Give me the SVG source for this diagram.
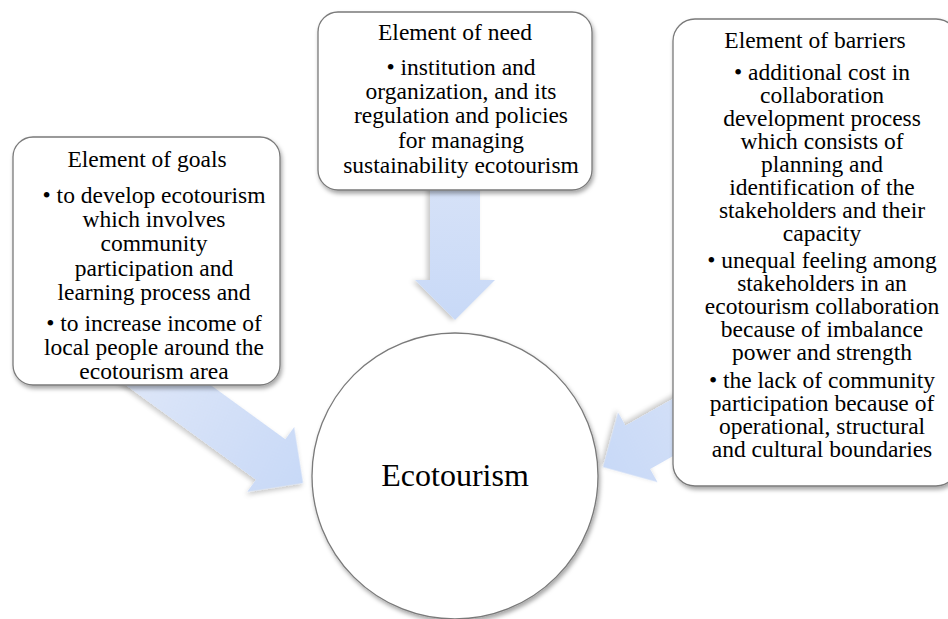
<svg xmlns="http://www.w3.org/2000/svg" width="948" height="619" viewBox="0 0 948 619">
<style>
  .box { fill: #ffffff; stroke: #7a7a7a; stroke-width: 1.3; filter: url(#shadow); }
  .t { font-family: 'Liberation Serif', 'Times New Roman', 'DejaVu Serif', serif; font-size: 23.5px; fill: #000; text-anchor: middle; }
  .big { font-family: 'Liberation Serif', 'Times New Roman', 'DejaVu Serif', serif; font-size: 32px; fill: #000; text-anchor: middle; }
  .arrow { filter: url(#ashadow); }
</style>
<defs>
  <filter id="shadow" x="-10%" y="-10%" width="125%" height="125%">
    <feDropShadow dx="1.5" dy="3" stdDeviation="2.2" flood-color="#000" flood-opacity="0.35"/>
  </filter>
  <filter id="ashadow" x="-20%" y="-20%" width="140%" height="140%">
    <feDropShadow dx="1" dy="3" stdDeviation="2.5" flood-color="#000" flood-opacity="0.22"/>
  </filter>
  <linearGradient id="ag" gradientUnits="userSpaceOnUse" x1="-200" y1="0" x2="0" y2="0">
    <stop offset="0" stop-color="#dde6f8"/>
    <stop offset="1" stop-color="#c8d9f7"/>
  </linearGradient>
  <polygon id="arrowShape" points="0,0 -40,-40 -40,-25 -230,-25 -230,25 -40,25 -40,40"/>
</defs>
<rect width="948" height="619" fill="#ffffff"/>

<g id="connectors">
  <g class="arrow" transform="translate(455,320) rotate(90)"><use href="#arrowShape" fill="url(#ag)"/></g>
  <g class="arrow" transform="translate(303,483) rotate(36)"><use href="#arrowShape" fill="url(#ag)"/></g>
  <g class="arrow" transform="translate(603,467) rotate(150.5)"><use href="#arrowShape" fill="url(#ag)"/></g>
</g>

<g id="goals">
  <rect class="box" x="13" y="137" width="267" height="248" rx="20"/>
  <text class="t" x="147" y="167">Element of goals</text>
  <text class="t" x="154" y="203">• to develop ecotourism</text>
  <text class="t" x="154" y="227">which involves</text>
  <text class="t" x="154" y="251">community</text>
  <text class="t" x="154" y="276">participation and</text>
  <text class="t" x="154" y="300">learning process and</text>
  <text class="t" x="154" y="331">• to increase income of</text>
  <text class="t" x="154" y="355">local people around the</text>
  <text class="t" x="154" y="379">ecotourism area</text>
</g>

<g id="need">
  <rect class="box" x="318" y="12" width="274" height="178" rx="20"/>
  <text class="t" x="455" y="40">Element of need</text>
  <text class="t" x="461" y="75">• institution and</text>
  <text class="t" x="461" y="99">organization, and its</text>
  <text class="t" x="461" y="123">regulation and policies</text>
  <text class="t" x="461" y="148">for managing</text>
  <text class="t" x="461" y="173">sustainability ecotourism</text>
</g>

<g id="barriers">
  <rect class="box" x="673" y="19" width="285" height="467" rx="22"/>
  <text class="t" x="815" y="48">Element of barriers</text>
  <text class="t" x="822" y="80">• additional cost in</text>
  <text class="t" x="822" y="103">collaboration</text>
  <text class="t" x="822" y="126">development process</text>
  <text class="t" x="822" y="149">which consists of</text>
  <text class="t" x="822" y="172">planning and</text>
  <text class="t" x="822" y="195">identification of the</text>
  <text class="t" x="822" y="218">stakeholders and their</text>
  <text class="t" x="822" y="241">capacity</text>
  <text class="t" x="822" y="268">• unequal feeling among</text>
  <text class="t" x="822" y="291">stakeholders in an</text>
  <text class="t" x="822" y="314">ecotourism collaboration</text>
  <text class="t" x="822" y="337">because of imbalance</text>
  <text class="t" x="822" y="360">power and strength</text>
  <text class="t" x="822" y="388">• the lack of community</text>
  <text class="t" x="822" y="411">participation because of</text>
  <text class="t" x="822" y="434">operational, structural</text>
  <text class="t" x="822" y="457">and cultural boundaries</text>
</g>

<g id="ecotourism">
  <circle class="box" cx="455" cy="476" r="143"/>
  <text class="big" x="455" y="486">Ecotourism</text>
</g>
</svg>
